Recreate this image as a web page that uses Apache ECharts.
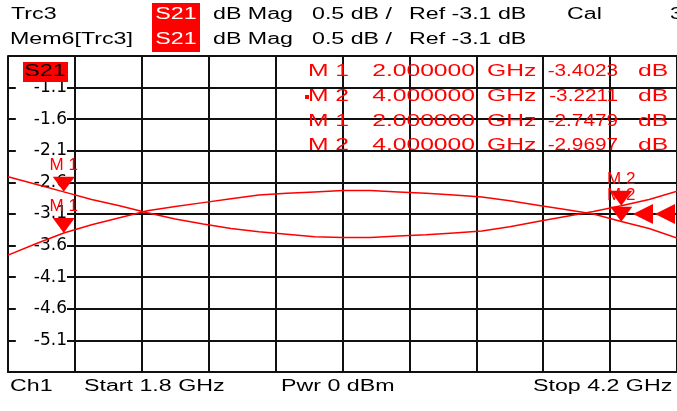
<!DOCTYPE html>
<html><head><meta charset="utf-8">
<script src="https://cdn.jsdelivr.net/npm/echarts@6/dist/echarts.min.js"></script>
<style>html,body{margin:0;padding:0;background:#fff}#c{width:677px;height:411px}</style>
</head><body><div id="c"></div>
<script>
// ---- data ----
const freqGHz = [1.8,1.9,2.0,2.1,2.2,2.3,2.4,2.5,2.6,2.7,2.8,2.9,3.0,3.1,3.2,3.3,3.4,3.5,3.6,3.7,3.8,3.9,4.0,4.1,4.2];
const trc3 = [-3.75,-3.57,-3.40,-3.27,-3.16,-3.05,-2.98,-2.92,-2.86,-2.80,-2.77,-2.75,-2.73,-2.73,-2.75,-2.77,-2.80,-2.83,-2.89,-2.96,-3.03,-3.10,-3.22,-3.33,-3.48];
const mem6 = [-2.51,-2.63,-2.75,-2.87,-2.97,-3.08,-3.18,-3.26,-3.33,-3.38,-3.42,-3.46,-3.47,-3.47,-3.45,-3.43,-3.40,-3.37,-3.30,-3.22,-3.14,-3.06,-2.97,-2.87,-2.74];
const yTickLabels = ['-5.6','-5.1','-4.6','-4.1','-3.6','-3.1','-2.6','-2.1','-1.6','-1.1','-0.6'];
const markerNames = ['M 1','M 2'];
const markerFreq = [2.0, 4.0];
const trc3Markers = [-3.4023, -3.2211];
const mem6Markers = [-2.7479, -2.9697];
const markerFreqText = ['2.000000','4.000000'];
const refLevel = -3.1;
const xMin = 1.8, xMax = 4.2, yMin = -5.6, yMax = -0.6;

const RED = '#ff0000';
const GRID = '#111111';
const chart = echarts.init(document.getElementById('c'), null, {renderer:'canvas'});

function txt(x, y, s, o) {
  o = o || {};
  const size = o.size || 16;
  const al = o.align || 'left';
  return {type:'text', x:x, y:y, scaleX: o.sx || 1.45, z:100,
    style:{text:s, x:0, y:0, fill:o.color||'#000', font: size + 'px "Liberation Sans", Arial, sans-serif',
      align:al, textAlign:al, verticalAlign:'middle', textVerticalAlign:'middle'}};
}
function rect(x,y,w,h,c){return {type:'rect', z:99, shape:{x:x,y:y,width:w,height:h}, style:{fill:c}};}

const graphics = [];
// header
graphics.push(rect(152,3,48,49,RED));
graphics.push(txt(11,15,'Trc3'));
graphics.push(txt(10,40,'Mem6[Trc3]'));
[15,40].forEach(function(y){
  graphics.push(txt(176,y,'S21',{color:'#fff',align:'center'}));
  graphics.push(txt(213,y,'dB Mag'));
  graphics.push(txt(312,y,'0.5 dB /'));
  graphics.push(txt(409,y,'Ref -3.1 dB'));
});
graphics.push(txt(567,15,'Cal'));
graphics.push(txt(670,15,'3'));
// trace label
graphics.push(rect(23,62,45,20,RED));
graphics.push(txt(45,72,'S21',{align:'center'}));
// marker table
const rows = [
  {n:markerNames[0], f:markerFreqText[0], v:trc3Markers[0]},
  {n:markerNames[1], f:markerFreqText[1], v:trc3Markers[1]},
  {n:markerNames[0], f:markerFreqText[0], v:mem6Markers[0]},
  {n:markerNames[1], f:markerFreqText[1], v:mem6Markers[1]}
];
const rowY = [71,96,121,145];
rows.forEach(function(r,i){
  const y = rowY[i];
  const o = {color:RED, size:17};
  graphics.push(txt(349,y,r.n,Object.assign({align:'right'},o)));
  graphics.push(txt(475,y,r.f,Object.assign({align:'right'},o)));
  graphics.push(txt(487,y,'GHz',o));
  graphics.push(txt(618,y,r.v.toFixed(4),Object.assign({align:'right', sx:1.22},o)));
  graphics.push(txt(638,y,'dB',o));
});
graphics.push(rect(305,95,4,4,RED));
// footer
graphics.push(txt(10,387,'Ch1'));
graphics.push(txt(84,387,'Start 1.8 GHz'));
graphics.push(txt(281,387,'Pwr 0 dBm'));
graphics.push(txt(533,387,'Stop 4.2 GHz'));

const splitStyle = {color:GRID, width:2};
const mLabel = {show:true, position:'top', distance:3, color:RED, fontSize:17, fontFamily:'"Liberation Sans", Arial, sans-serif', formatter:function(p){return p.name;}};
function markers(vals, refOffset){
  const d = markerFreq.map(function(f,i){return {name:markerNames[i], coord:[f, vals[i]]};});
  d.push({name:'ref', coord:[xMax, refLevel], symbol:'path://M20,0 L20,20 L0,10 Z', symbolSize:[20,20], symbolOffset:[refOffset,0], label:{show:false}});
  return {symbol:'path://M0,0 L22,0 L11,15 Z', symbolSize:[22,15], symbolOffset:[0,-7.5], itemStyle:{color:RED}, label:mLabel, data:d, animation:false};
}

chart.setOption({
  animation:false,
  backgroundColor:'#fff',
  grid:{left:8, right:-7, top:56, bottom:39, containLabel:false},
  xAxis:[
    {type:'value', min:0, max:10, interval:1, axisLine:{show:true, lineStyle:splitStyle}, axisTick:{show:false}, axisLabel:{show:false}, splitLine:{show:true, lineStyle:splitStyle}},
    {type:'value', min:xMin, max:xMax, show:false}
  ],
  yAxis:[
    {type:'value', min:0, max:10, interval:1, axisLine:{show:true, lineStyle:splitStyle}, axisTick:{show:false},
     splitLine:{show:true, lineStyle:splitStyle},
     axisLabel:{inside:true, margin:59, align:'right', verticalAlign:'middle', showMinLabel:false, showMaxLabel:false,
       formatter:function(v){return yTickLabels[Math.round(v)];}, color:'#000', fontSize:17, fontFamily:'"DejaVu Sans"',
       backgroundColor:'#fff', padding:[0,0,0,18]}},
    {type:'value', min:yMin, max:yMax, show:false}
  ],
  series:[
    {name:'Trc3', type:'line', xAxisIndex:1, yAxisIndex:1, data:freqGHz.map(function(f,i){return [f,trc3[i]];}),
     symbol:'none', lineStyle:{color:RED, width:1.5}, itemStyle:{color:RED}, silent:true, markPoint:markers(trc3Markers,-34)},
    {name:'Mem6', type:'line', xAxisIndex:1, yAxisIndex:1, data:freqGHz.map(function(f,i){return [f,mem6[i]];}),
     symbol:'none', lineStyle:{color:RED, width:1.5}, itemStyle:{color:RED}, silent:true, markPoint:markers(mem6Markers,-12)}
  ],
  graphic:{elements:graphics}
});
</script></body></html>
